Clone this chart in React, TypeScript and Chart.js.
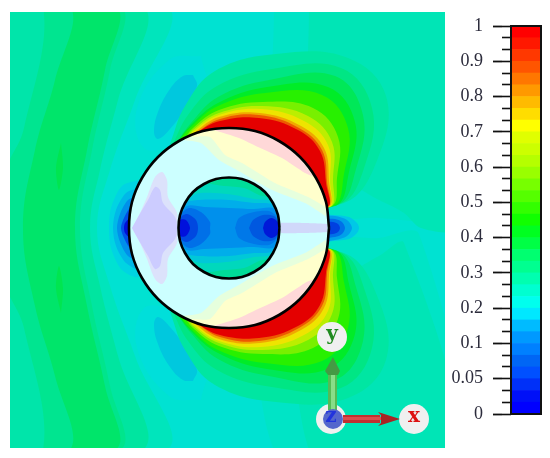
import React, { useEffect, useRef } from "react";
import { Chart, registerables } from "chart.js";

Chart.register(...registerables);

type P = [number, number];

// ---------- field coordinates: origin at the centre of the rings ----------
const X_MIN = -219, X_MAX = 216, Y_MIN = -220, Y_MAX = 216;

const fieldFrame: P[] = [[-225,222],[225,222],[225,-225],[-225,-225]];
const outerCircle: P[] = [[100,0],[97,26],[87,50],[71,71],[50,87],[26,97],[0,100],[-26,97],[-50,87],[-71,71],[-87,50],[-97,26],[-100,0]];
const innerCircle: P[] = [[50.5,0],[49,13],[44,25],[36,36],[25,44],[13,49],[0,50.5],[-13,49],[-25,44],[-36,36],[-44,25],[-49,13],[-50.5,0]];

// left-hand far-field bands (symmetric about y = 0)
const bandA: P[] = [[-225,222],[-62,222],[-94,128],[-119,58],[-132,0]];
const bandB: P[] = [[-225,222],[-86,222],[-111,128],[-129,58],[-139,0]];
const bandC: P[] = [[-225,222],[-109,222],[-119,158],[-137,78],[-149,0]];
const bandD: P[] = [[-225,222],[-114,222],[-124,158],[-142,78],[-154,0]];
const stripMid: P[] = [[-225,222],[-159,222],[-174,148],[-194,78],[-206,0]];
const stripTeal: P[] = [[-225,222],[-186,222],[-205,100],[-225,50]];
const spotGreen: P[] = [[-168,85],[-166,60],[-170,38],[-173,60]];
// right-hand far field
const rightA: P[] = [[45,222],[225,222],[225,0],[215,0],[190,6],[150,10],[100,14],[70,100]];
const rightB: P[] = [[80,222],[225,222],[225,0],[192,0],[175,15],[150,28],[100,50]];
// halo and oval to the upper left of the ring
const haloOval: P[] = [[-28,172],[-20,125],[-55,85],[-85,80],[-92,120],[-60,168]];
const oval: P[] = [[-36,153],[-32,142],[-42,122],[-59,99],[-71,89],[-75,96],[-71,116],[-59,139],[-46,152]];

// nested lobes above the ring, read outermost to innermost
const lobeFaint: P[] = [[-59,84],[-44,122],[-14,157],[47,174],[119,170],[157,132],[149,70],[115,25],[40,30]];
const lobeTeal: P[] = [[-57,82],[-41,113],[-12,142],[43,159],[112,160],[143,120],[136,63],[111,24],[40,30]];
const lobeGreen1: P[] = [[-56,80],[-38,105],[-11,131],[40,148],[106,152],[134,113],[127,59],[108,23],[40,30]];
const lobeGreen2: P[] = [[-56,80],[-38,103],[-11,125],[38,141],[99,141],[126,106],[120,56],[106,22],[40,30]];
const lobeBright: P[] = [[-56,80],[-37,102],[-11,122],[36,135],[93,133],[119,100],[115,54],[104,22],[40,30]];
const lobeLime: P[] = [[-45,88],[-36,100],[-10,118],[34,126],[84,120],[109,91],[108,50],[102,22],[40,30]];
const lobeOlive: P[] = [[-42,89],[-36,98],[-10,115],[33,122],[79,112],[103,86],[104,49],[101,21],[40,30]];
const lobeYellow: P[] = [[-40,90],[-35,97],[-10,113],[32,119],[75,107],[99,83],[101,47],[100,21],[40,30]];
const lobeOrange: P[] = [[-38,90],[-35,95],[-10,111],[31,115],[72,102],[95,80],[100,47],[99,21],[40,30]];
const lobeVermilion: P[] = [[-37,90],[-34,94],[-9,109],[30,113],[70,100],[93,78],[98,46],[98,21],[40,30]];
const lobeRed: P[] = [[-36,90],[-34,94],[-9,107],[30,110],[69,98],[91,77],[97,45],[98,21],[40,30]];

// blue spots at the ring's left and right
const leftHalo: P[] = [[-90,48],[-107,42],[-118,20],[-120,0]];
const leftA: P[] = [[-90,40],[-103,35],[-113,18],[-116,0]];
const leftB: P[] = [[-90,32],[-101,28],[-109,14],[-112,0]];
const leftC: P[] = [[-90,24],[-99,20],[-105,10],[-108,0]];
const leftD: P[] = [[-90,14],[-99,10],[-104,5],[-105,0]];
const rightCyan: P[] = [[90,14],[104,13],[120,11],[128,5],[130,0]];
const rightSky: P[] = [[90,12],[106,12],[118,8],[123,0]];
const rightMid: P[] = [[90,9],[106,9],[113,6],[116,0]];
const rightDark: P[] = [[90,6],[104,6],[109,4],[111,0]];

// inside the ring
const creamHalo: P[] = [[-46,88],[-26,96],[0,99],[26,96],[50,86],[70,70],[86,50],[96,26],[97,12],[92,15],[76,25],[43,38],[8,58],[-10,68],[-28,85]];
const creamPatch: P[] = [[-39,91],[-26,96],[0,99],[26,96],[50,86],[70,70],[86,50],[96,26],[97,17],[96,21],[79,31],[46,45],[13,65],[-4,73],[-19,91]];
const pinkPatch: P[] = [[-15,98],[0,99],[26,96],[50,86],[70,70],[84,52],[76,55],[53,70],[29,81],[10,90]];
const lavenderHalo: P[] = [[-97,0],[-89,15],[-82,31],[-74,51],[-67,56],[-62,48],[-61,31],[-52,15],[-52,0]];
const lavenderCore: P[] = [[-97,0],[-91,11],[-81,28],[-74,41],[-69,38],[-66,25],[-54,11],[-52,0]];
const lavenderTail: P[] = [[52,0],[52,5],[75,5],[98,4],[98,0]];

// inside the inner circle
const coreTeal: P[] = [[-50,0],[-49,13],[-44,25],[-36,36],[-25,44],[-5,42],[15,40],[30,33],[40,30],[46,20],[50,0]];
const coreCyan: P[] = [[-50,0],[-49,13],[-44,25],[-33,34],[-15,35],[5,33],[25,29],[42,27],[47,18],[50,0]];
const coreSky: P[] = [[-50,0],[-49,13],[-44,25],[-30,28],[0,28],[25,25],[42,24],[48,14],[50,0]];
const coreAzure: P[] = [[-50,0],[-49,10],[-42,22],[-25,21],[0,20],[25,19],[44,20],[48,12],[50,0]];
const coreLeft1: P[] = [[-50,0],[-49,12],[-40,20],[-28,16],[-19,6],[-19,0]];
const coreRight1: P[] = [[6,0],[10,10],[25,16],[40,17],[47,12],[50,0]];
const coreLeft2: P[] = [[-50,0],[-49,10],[-42,14],[-33,8],[-31,0]];
const coreRight2: P[] = [[20,0],[24,8],[34,13],[45,12],[49,6],[50,0]];
const coreLeft3: P[] = [[-50,0],[-49,8],[-43,8],[-39,0]];
const coreRight3: P[] = [[34,0],[36,6],[42,10],[48,7],[50,0]];

// axis triad
const triadDiscs: P[] = [[103,-109],[102,-191],[185,-191]];
const triadCore: P[] = [[104,-191]];
const greenShaft: P[] = [[99,-144],[108,-144],[108,-182],[99,-182]];
const greenGlow: P[] = [[102,-146],[106,-146],[106,-182],[102,-182]];
const greenHead: P[] = [[104,-129],[111,-143],[109,-147],[99,-147],[96,-143]];
const redShaft: P[] = [[114,-187],[151,-187],[151,-195],[114,-195]];
const redGlow: P[] = [[114,-189],[152,-189],[152,-192],[114,-192]];
const redHead: P[] = [[149,-184],[171,-191],[149,-198],[152,-195],[152,-187]];
const triadLabels = ["y", "z", "x"];
const triadLabelColors = ["#1f8a1f", "#2233dd", "#dd1111"];

// ---------- colour bar ----------
const barTickLabels = ["0", "0.05", "0.1", "0.2", "0.3", "0.4", "0.5", "0.6", "0.7", "0.8", "0.9", "1"];
const barFrame = [{ x: 0, y: 0 }, { x: 1, y: 0 }, { x: 1, y: 1 }, { x: 0, y: 1 }, { x: 0, y: 0 }];
const barColors = [
  "#0000ff","#0010f8","#0030f8","#0050ff","#0066f5","#0080ff","#0099ff","#00bbff","#00e8ff","#00ffee","#00ffd0",
  "#00ffb0","#00ff90","#00ff70","#00ff45","#00ff20","#11ff00","#33ff00","#55ff00","#77ff00","#99ff00","#b5ff00",
  "#ccff00","#e0ff00","#ffff00","#ffdd00","#ffbb00","#ff9900","#ff7700","#ff5500","#ff3800","#ff1800","#ff0000",
];

const mirror = (upper: P[]): P[] => [
  ...upper,
  ...upper.slice().reverse().filter((p) => p[1] !== 0).map((p): P => [p[0], -p[1]]),
];
const flip = (pts: P[]): P[] => pts.map((p): P => [p[0], -p[1]]);
const toXY = (pts: P[]) => pts.map((p) => ({ x: p[0], y: p[1] }));

const shape = (pts: P[], color: string, tension = 0.3) => ({
  data: toXY(pts.concat([pts[0]])),
  showLine: true,
  fill: "shape",
  backgroundColor: color,
  borderWidth: 0,
  borderColor: color,
  pointRadius: 0,
  tension,
});
const outline = (pts: P[]) => ({
  data: toXY(pts.concat([pts[0]])),
  showLine: true,
  fill: false,
  borderColor: "#000000",
  borderWidth: 2.6,
  pointRadius: 0,
  tension: 0.336,
});
const discs = (pts: P[], color: string, radius: number) => ({
  data: toXY(pts),
  showLine: false,
  pointRadius: radius,
  pointBackgroundColor: color,
  pointBorderWidth: 0,
  backgroundColor: color,
});

const lobeStack: [P[], string][] = [
  [lobeFaint, "#00e6a2"],
  [lobeTeal, "#00e684"],
  [lobeGreen1, "#00e858"],
  [lobeGreen2, "#00ec28"],
  [lobeBright, "#28f000"],
  [lobeLime, "#78f000"],
  [lobeOlive, "#bcee00"],
  [lobeYellow, "#eee400"],
  [lobeOrange, "#f0a800"],
  [lobeVermilion, "#ee5800"],
  [lobeRed, "#e40000"],
];

function fieldDatasets() {
  const layers: any[] = [
    shape(fieldFrame, "#00e2d2", 0),
    shape(mirror(rightA), "#00e4c6", 0.3),
    shape(mirror(rightB), "#00e5b6", 0.3),
    shape(mirror(bandA), "#00e5bc", 0.4),
    shape(mirror(bandB), "#00e5a0", 0.4),
    shape(mirror(bandC), "#00e58c", 0.4),
    shape(mirror(bandD), "#00e56a", 0.4),
    shape(mirror(stripMid), "#00e590", 0.4),
    shape(mirror(stripTeal), "#00e5aa", 0.4),
    shape(spotGreen, "#00e550"),
    shape(flip(spotGreen), "#00e550"),
    shape(haloOval, "#00dfda", 0.4),
    shape(flip(haloOval), "#00dfda", 0.4),
    shape(oval, "#00c8de", 0.4),
    shape(flip(oval), "#00c8de", 0.4),
  ];
  lobeStack.forEach(([pts, color]) => {
    layers.push(shape(pts, color, 0.4));
    layers.push(shape(flip(pts), color, 0.4));
  });
  layers.push(
    shape(mirror(leftHalo), "#00d4e2"),
    shape(mirror(leftA), "#00b8e8"),
    shape(mirror(leftB), "#0090ea"),
    shape(mirror(leftC), "#0050e8"),
    shape(mirror(leftD), "#0010d8"),
    shape(mirror(rightCyan), "#00c8e6"),
    shape(mirror(rightSky), "#00a0ea"),
    shape(mirror(rightMid), "#0070e8"),
    shape(mirror(rightDark), "#0040e0"),
    shape(mirror(outerCircle), "#ccffff", 0.336),
    shape(creamHalo, "#e6ffdd", 0.2),
    shape(flip(creamHalo), "#e6ffdd", 0.2),
    shape(creamPatch, "#ffffcc", 0.2),
    shape(flip(creamPatch), "#ffffcc", 0.2),
    shape(pinkPatch, "#ffd8d8", 0.2),
    shape(flip(pinkPatch), "#ffd8d8", 0.2),
    shape(mirror(lavenderHalo), "#dce2fb"),
    shape(mirror(lavenderCore), "#ccccff"),
    shape(mirror(lavenderTail), "#d0d8fa", 0.1),
    shape(mirror(innerCircle), "#00dc98", 0.336),
    shape(mirror(coreTeal), "#00d8bc"),
    shape(mirror(coreCyan), "#00c8d8"),
    shape(mirror(coreSky), "#00aeea"),
    shape(mirror(coreAzure), "#0090ec"),
    shape(mirror(coreLeft1), "#0070e8"),
    shape(mirror(coreRight1), "#0078e8"),
    shape(mirror(coreLeft2), "#0048e0"),
    shape(mirror(coreRight2), "#0058e0"),
    shape(mirror(coreLeft3), "#0010dc"),
    shape(mirror(coreRight3), "#0018d8"),
    outline(mirror(outerCircle)),
    outline(mirror(innerCircle)),
    discs(triadDiscs, "#f0f0f0", 15),
    shape(greenShaft, "#55bb55", 0),
    shape(greenGlow, "#88dd88", 0),
    shape(greenHead, "#449a44", 0),
    shape(redShaft, "#c23030", 0),
    shape(redGlow, "#dd4c4c", 0),
    shape(redHead, "#a82424", 0),
    discs(triadCore, "#5566cc", 10),
  );
  return layers.reverse(); // Chart.js paints dataset 0 last
}

const triadText = {
  id: "triadText",
  afterDatasetsDraw(chart: any) {
    const { ctx, scales } = chart;
    ctx.save();
    ctx.font = "bold 20px 'DejaVu Serif'";
    ctx.textAlign = "center";
    ctx.textBaseline = "middle";
    triadDiscs.forEach((p, i) => {
      ctx.fillStyle = triadLabelColors[i];
      ctx.fillText(triadLabels[i], scales.x.getPixelForValue(p[0]), scales.y.getPixelForValue(p[1]) - 2);
    });
    ctx.restore();
  },
};

export default function App() {
  const fieldRef = useRef<HTMLCanvasElement>(null);
  const barRef = useRef<HTMLCanvasElement>(null);

  useEffect(() => {
    const field = new Chart(fieldRef.current!, {
      type: "scatter",
      data: { datasets: fieldDatasets() },
      options: {
        responsive: false,
        animation: false,
        events: [],
        layout: { autoPadding: false, padding: { left: 10, right: 105, top: 12, bottom: 10 } },
        plugins: { legend: { display: false }, tooltip: { enabled: false } },
        scales: {
          x: { type: "linear", min: X_MIN, max: X_MAX, display: false },
          y: { type: "linear", min: Y_MIN, max: Y_MAX, display: false },
        },
      },
      plugins: [triadText],
    } as any);

    const tickFont = { family: "'Liberation Serif'", size: 18 };
    const bar = new Chart(barRef.current!, {
      type: "bar",
      data: {
        labels: ["scale"],
        datasets: [
          {
            type: "scatter",
            data: barFrame,
            showLine: true,
            fill: false,
            xAxisID: "frameX",
            yAxisID: "frameY",
            borderColor: "#111111",
            borderWidth: 2,
            pointRadius: 0,
            clip: false,
          },
          ...barColors.map((color) => ({
            data: [1],
            xAxisID: "x",
            yAxisID: "y",
            stack: "levels",
            grouped: false,
            backgroundColor: color,
            borderWidth: 0,
          })),
        ],
      },
      options: {
        responsive: false,
        animation: false,
        events: [],
        layout: { autoPadding: false, padding: { left: 0, right: 9, top: 26, bottom: 44 } },
        datasets: { bar: { categoryPercentage: 1, barPercentage: 1, grouped: false } },
        plugins: { legend: { display: false }, tooltip: { enabled: false } },
        scales: {
          x: { type: "category", stacked: true, display: false, offset: true },
          y: {
            stacked: true,
            min: 0,
            max: barColors.length,
            position: "left",
            weight: 1,
            border: { display: false },
            grid: { drawOnChartArea: false, tickLength: 9, tickColor: "#111111", tickWidth: 1.6 },
            ticks: { display: false, stepSize: 1 },
            afterFit: (s: any) => { s.width = 9; },
          },
          major: {
            min: 0,
            max: barColors.length,
            position: "left",
            weight: 2,
            border: { display: false },
            grid: { drawOnChartArea: false, tickLength: 9, tickColor: "#111111", tickWidth: 1.8 },
            ticks: {
              stepSize: 3,
              padding: 10,
              autoSkip: false,
              color: "#2c2c3c",
              font: tickFont,
              callback: (v: any) => barTickLabels[Math.round(Number(v) / 3)],
            },
            afterFit: (s: any) => { s.width = 62; },
          },
          frameX: { axis: "x", type: "linear", min: 0, max: 1, offset: false, display: false },
          frameY: { axis: "y", type: "linear", min: 0, max: 1, offset: false, display: false },
        },
      },
    } as any);

    return () => {
      field.destroy();
      bar.destroy();
    };
  }, []);

  return (
    <div>
      <canvas ref={fieldRef} width={550} height={458} style={{ position: "absolute", left: 0, top: 0, filter: "blur(0.6px)" }} />
      <canvas ref={barRef} width={110} height={458} style={{ position: "absolute", left: 440, top: 0, filter: "blur(0.3px)" }} />
    </div>
  );
}
